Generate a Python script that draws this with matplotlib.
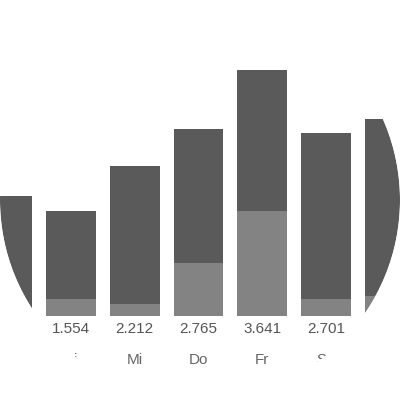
import matplotlib
matplotlib.use("Agg")
import matplotlib.pyplot as plt
from matplotlib.patches import Circle, PathPatch
from matplotlib.path import Path
import numpy as np

days = ['Mo', 'Di', 'Mi', 'Do', 'Fr', 'Sa', 'So']
totals = [1775, 1554, 2212, 2765, 3641, 2701, 2914]
part = [50, 250, 180, 780, 1550, 250, 300]

DARK = '#5a5a5a'
LIGHT = '#838383'

plt.rcParams['font.family'] = ['Liberation Sans', 'DejaVu Sans']

fig = plt.figure(figsize=(4, 4), dpi=100)
ax = fig.add_axes([0, 0, 1, 1])
ax.set_xlim(-0.11, 6.157)
ax.set_ylim(-1243, 4675)
ax.axis('off')

clip = Circle((0.5, 0.5), 0.5, transform=fig.transFigure, facecolor='none', edgecolor='none')

x = list(range(len(days)))
b1 = ax.bar(x, totals, width=0.783, color=DARK, linewidth=0)
b2 = ax.bar(x, part, width=0.783, color=LIGHT, linewidth=0)
for r in list(b1) + list(b2):
    r.set_clip_path(clip)

def fmt(v):
    return f"{v:,}".replace(',', '.')

for xi, t, d in zip(x, totals, days):
    ax.text(xi, -256, fmt(t), ha='center', va='baseline', fontsize=11, color='#555555')
    ax.text(xi, -706, d, ha='center', va='baseline', fontsize=11, color='#666666')

# white mask outside the circle (text in Agg ignores clip paths)
theta = np.linspace(0, 2 * np.pi, 400)
circ = np.column_stack([0.5 + 0.5 * np.cos(theta), 0.5 + 0.5 * np.sin(theta)])[::-1]
outer = np.array([[-0.1, -0.1], [1.1, -0.1], [1.1, 1.1], [-0.1, 1.1], [-0.1, -0.1]])
verts = np.vstack([outer, circ])
codes = ([Path.MOVETO] + [Path.LINETO] * 3 + [Path.CLOSEPOLY]
         + [Path.MOVETO] + [Path.LINETO] * (len(circ) - 2) + [Path.CLOSEPOLY])
mask = PathPatch(Path(verts, codes), facecolor='white', edgecolor='none',
                 transform=fig.transFigure, zorder=100, clip_on=False)
ax.add_patch(mask)

fig.savefig('out.png', dpi=100)
